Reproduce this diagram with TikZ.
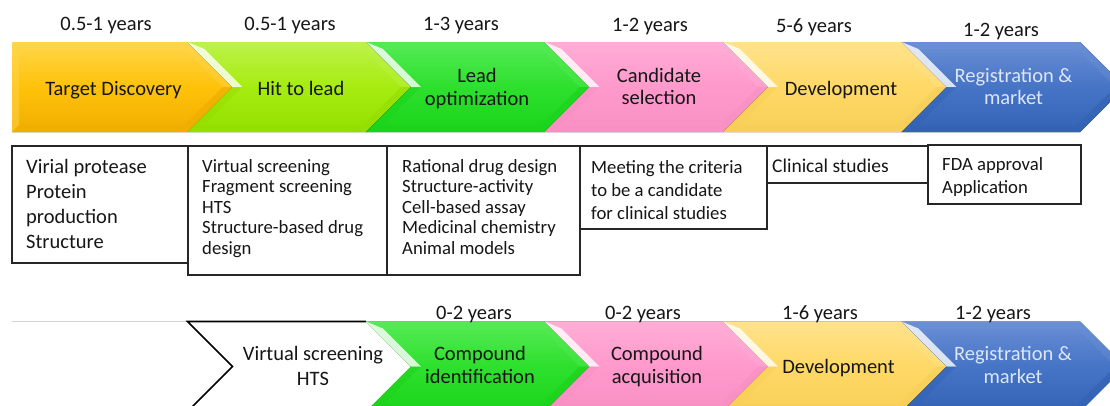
\documentclass[tikz,border=0pt]{standalone}
\usepackage{fontspec}
\setmainfont{Carlito}

% stage colours: light (top bevel), main, dark (bottom)
\definecolor{orgl}{HTML}{FFD54A}\definecolor{orgm}{HTML}{FFC20A}\definecolor{orgd}{HTML}{F0AE00}
\definecolor{chal}{HTML}{BDF24A}\definecolor{cham}{HTML}{A6EC10}\definecolor{chad}{HTML}{94DF00}
\definecolor{grnl}{HTML}{55EA55}\definecolor{grnm}{HTML}{2EE02E}\definecolor{grnd}{HTML}{1AD41A}
\definecolor{pnkl}{HTML}{FFADD6}\definecolor{pnkm}{HTML}{FF99CC}\definecolor{pnkd}{HTML}{F890C4}
\definecolor{ylwl}{HTML}{FFE28C}\definecolor{ylwm}{HTML}{FFD966}\definecolor{ylwd}{HTML}{F7CF58}
\definecolor{blul}{HTML}{6A8FD5}\definecolor{blum}{HTML}{4674C6}\definecolor{blud}{HTML}{3462B4}
\definecolor{regtext}{HTML}{DCE6F5}
\definecolor{ink}{HTML}{161616}

% a notched chevron with bevelled edges: #1 left x, #2 top y, #3 colour prefix
\newcommand\chevnotched[3]{%
  \pgfmathsetmacro\chL{#1}%
  \pgfmathsetmacro\chT{#2}%
  \pgfmathsetmacro\chR{#1+178.5}%
  \pgfmathsetmacro\chM{#2+45}%
  \pgfmathsetmacro\chB{#2+90}%
  \pgfmathsetmacro\chF{#1+45}%
  \pgfmathsetmacro\chTip{#1+223.5}%
  \pgfmathsetmacro\chLi{#1+16.9}%
  \pgfmathsetmacro\chFi{#1+54.9}%
  \pgfmathsetmacro\chRi{#1+175.6}%
  \pgfmathsetmacro\chCi{#1+213.6}%
  \pgfmathsetmacro\chTi{#2+7}%
  \pgfmathsetmacro\chBi{#2+83}%
  \fill[top color=#3l, bottom color=#3d, middle color=#3m]
    (\chL,\chT) -- (\chR,\chT) -- (\chTip,\chM) -- (\chR,\chB) -- (\chL,\chB) -- (\chF,\chM) -- cycle;
  \fill[#3l, opacity=.85] (\chL,\chT) -- (\chR,\chT) -- (\chRi,\chTi) -- (\chLi,\chTi) -- cycle;
  \fill[white, opacity=.8] (\chL,\chT) -- (\chLi,\chTi) -- (\chFi,\chM) -- (\chF,\chM) -- cycle;
  \fill[#3d, opacity=.5] (\chF,\chM) -- (\chFi,\chM) -- (\chLi,\chBi) -- (\chL,\chB) -- cycle;
  \fill[#3d, opacity=.6] (\chL,\chB) -- (\chLi,\chBi) -- (\chRi,\chBi) -- (\chR,\chB) -- cycle;
  \fill[#3l, opacity=.4] (\chR,\chT) -- (\chTip,\chM) -- (\chCi,\chM) -- (\chRi,\chTi) -- cycle;
  \fill[#3d, opacity=.7] (\chTip,\chM) -- (\chR,\chB) -- (\chRi,\chBi) -- (\chCi,\chM) -- cycle;
}

\tikzset{
  yearlbl/.style={font=\fontsize{20.5}{24}\selectfont, text=ink, inner sep=0pt, anchor=base},
  stagelbl/.style={font=\fontsize{20.5}{23}\selectfont, text=ink, inner sep=0pt, align=center,
    anchor=north, execute at begin node={\rule{0pt}{16pt}}},
  notebox/.style={draw=black!85, line width=1.1pt, inner sep=0pt, outer sep=0pt,
    anchor=north west, rectangle},
  notetext/.style={font=\fontsize{18.7}{20.4}\selectfont, text=ink, inner sep=0pt, align=left,
    anchor=north west, execute at begin node={\rule{0pt}{14.6pt}}},
}

\begin{document}
\begin{tikzpicture}[x=1pt, y=-1pt]
  \path[use as bounding box] (0,0) rectangle (1110,405);
  \fill[white] (0,0) rectangle (1110,405);
  \clip (0,0) rectangle (1110,405);

  % ---------- upper pipeline ----------
  % first stage: flat left end
  \fill[top color=orgl, bottom color=orgd, middle color=orgm]
    (12,42) -- (187.5,42) -- (232.5,87) -- (187.5,132) -- (12,132) -- cycle;
  \fill[orgl, opacity=.85] (12,42) -- (187.5,42) -- (184.6,49) -- (19,49) -- cycle;
  \fill[orgl, opacity=.5] (12,42) -- (19,49) -- (19,125) -- (12,132) -- cycle;
  \fill[orgd, opacity=.6] (12,132) -- (19,125) -- (184.6,125) -- (187.5,132) -- cycle;
  \fill[orgl, opacity=.4] (187.5,42) -- (232.5,87) -- (222.6,87) -- (184.6,49) -- cycle;
  \fill[orgd, opacity=.7] (232.5,87) -- (187.5,132) -- (184.6,125) -- (222.6,87) -- cycle;

  \chevnotched{187.5}{42}{cha}
  \chevnotched{366}{42}{grn}
  \chevnotched{544.5}{42}{pnk}
  \chevnotched{723}{42}{ylw}
  \chevnotched{901.5}{42}{blu}

  \node[yearlbl] (y1) at (106,30) {0.5-1 years};
  \node[yearlbl] (y2) at (290,30) {0.5-1 years};
  \node[yearlbl] (y3) at (461,30.5) {1-3 years};
  \node[yearlbl] (y4) at (650,31) {1-2 years};
  \node[yearlbl] (y5) at (814,32.5) {5-6 years};
  \node[yearlbl] (y6) at (1001,36.5) {1-2 years};

  \node[stagelbl] (s1) at (113.5,79) {Target Discovery};
  \node[stagelbl] (s2) at (301,79) {Hit to lead};
  \node[stagelbl] (s3) at (477,68) {Lead\\optimization};
  \node[stagelbl, font=\fontsize{20.5}{22.5}\selectfont] (s4) at (659,68) {Candidate\\selection};
  \node[stagelbl] (s5) at (841,79) {Development};
  \node[stagelbl, font=\fontsize{20.5}{22.5}\selectfont, text=regtext] (s6) at (1013.5,68)
    {Registration \&\\market};

  % ---------- activity boxes ----------
  \node[notebox, minimum width=176, minimum height=117] (b1) at (12,146) {};
  \node[notebox, minimum width=199, minimum height=129] (b2) at (188,146) {};
  \node[notebox, minimum width=193, minimum height=129] (b3) at (387,146) {};
  \node[notebox, minimum width=187, minimum height=83] (b4) at (580,146) {};
  \node[notebox, minimum width=161, minimum height=37] (b5) at (767,146) {};
  \node[notebox, minimum width=153, minimum height=59] (b6) at (928,145) {};

  \node[notetext, font=\fontsize{20.5}{25}\selectfont, execute at begin node={\rule{0pt}{16pt}}]
    (t1) at (26,159.5) {Virial protease\\Protein\\production\\Structure};
  \node[notetext] (t2) at (202,159.3)
    {Virtual screening\\Fragment screening\\HTS\\Structure-based drug\\design};
  \node[notetext] (t3) at (402,159.3)
    {Rational drug design\\Structure-activity\\Cell-based assay\\Medicinal chemistry\\Animal models};
  \node[notetext, font=\fontsize{18.7}{23}\selectfont] (t4) at (591,160)
    {Meeting the criteria\\to be a candidate\\for clinical studies};
  \node[notetext, font=\fontsize{19.5}{23}\selectfont] (t5) at (772,158) {Clinical studies};
  \node[notetext, font=\fontsize{18.7}{23}\selectfont] (t6) at (942,157)
    {FDA approval\\Application};

  % ---------- lower pipeline ----------
  \draw[gray!35, line width=0.8pt] (12,321.5) -- (187.5,321.5);
  \fill[white] (187.5,321.5) -- (366,321.5) -- (411,366.5) -- (366,411.5) -- (187.5,411.5) -- (232.5,366.5) -- cycle;
  \draw[black, line width=1.6pt, line join=miter]
    (187.5,411.5) -- (232.5,366.5) -- (187.5,321.5) -- (366,321.5);

  \chevnotched{366}{321.5}{grn}
  \chevnotched{544.5}{321.5}{pnk}
  \chevnotched{723}{321.5}{ylw}
  \chevnotched{901.5}{321.5}{blu}

  \node[yearlbl] (z3) at (474,319) {0-2 years};
  \node[yearlbl] (z4) at (643,319) {0-2 years};
  \node[yearlbl] (z5) at (820,319) {1-6 years};
  \node[yearlbl] (z6) at (993,319) {1-2 years};

  \node[stagelbl, font=\fontsize{20.5}{24.5}\selectfont] (r2) at (313,346.5) {Virtual screening\\HTS};
  \node[stagelbl] (r3) at (480,346.5) {Compound\\identification};
  \node[stagelbl] (r4) at (657,346.5) {Compound\\acquisition};
  \node[stagelbl] (r5) at (838.5,357.5) {Development};
  \node[stagelbl, text=regtext] (r6) at (1013,346.5) {Registration \&\\market};
\end{tikzpicture}
\end{document}
